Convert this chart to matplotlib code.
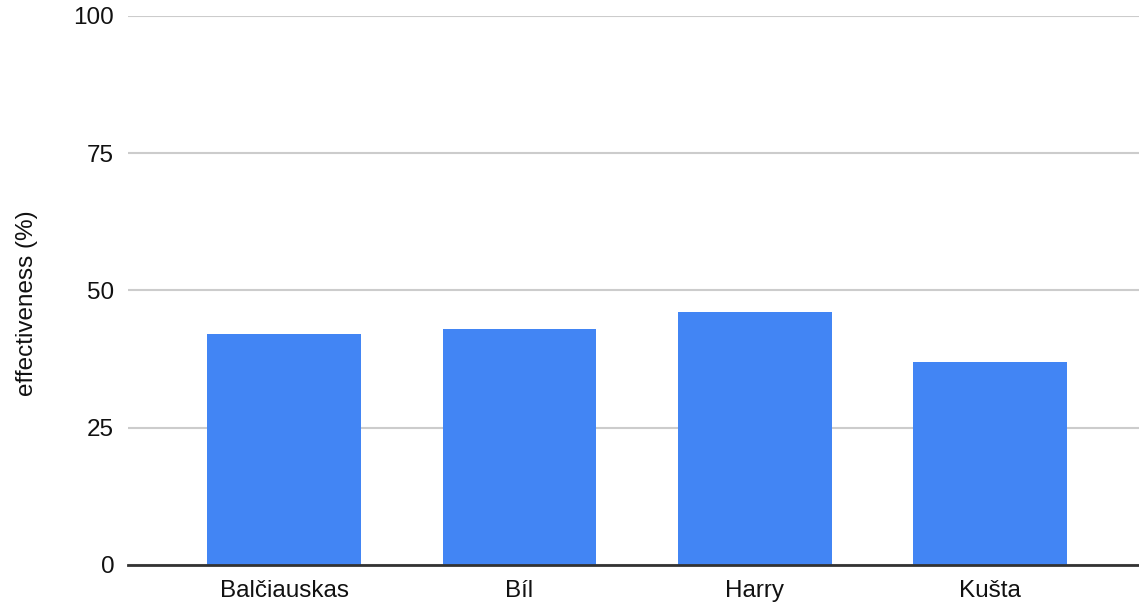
import matplotlib.pyplot as plt

plt.rcParams['font.family'] = ['Liberation Sans', 'DejaVu Sans']

# effectiveness per author
authors = ['Balčiauskas', 'Bíl', 'Harry', 'Kušta']
effectiveness = [42, 43, 46, 37]
y_ticks = [0, 25, 50, 75, 100]

fig = plt.figure(figsize=(11.39, 6.06), dpi=100)
ax = fig.add_axes([0.1124, 0.0677, 0.8876, 0.9059])

x = range(len(authors))
ax.bar(x, effectiveness, width=0.6525, color='#4285F4', zorder=3)

ax.set_xlim(-0.664, 3.633)
ax.set_ylim(0, 100)
ax.set_yticks(y_ticks)
ax.set_xticks(list(x))
ax.set_xticklabels(authors)

ax.grid(axis='y', color='#cccccc', linewidth=1.5, zorder=0)
for side in ['top', 'right', 'left']:
    ax.spines[side].set_visible(False)
ax.spines['bottom'].set_color('#333333')
ax.spines['bottom'].set_linewidth(2)
ax.spines['bottom'].set_zorder(4)

ax.tick_params(axis='both', length=0, labelsize=17.5, labelcolor='#111111')
ax.tick_params(axis='x', pad=11)
ax.tick_params(axis='y', pad=10)
ax.set_ylabel('effectiveness (%)', fontsize=17.5, color='#111111')
ax.yaxis.set_label_coords(-0.089, 0.477)

fig.savefig('out.png', dpi=100)
